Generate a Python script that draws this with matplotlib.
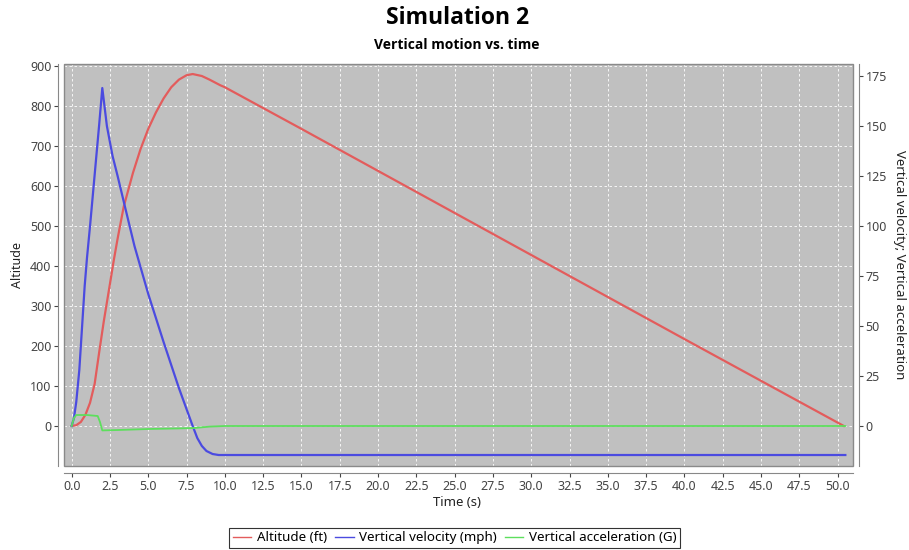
import matplotlib
matplotlib.use('Agg')
import matplotlib.pyplot as plt
from matplotlib.patches import Rectangle

plt.rcParams['font.family'] = ['Noto Sans', 'DejaVu Sans']

# 数据
alt_t = [0.0, 0.3, 0.6, 0.9, 1.2, 1.5, 1.8, 2.1, 2.5, 2.75, 3.0, 3.4, 4.0, 4.5,
         5.0, 5.5, 6.0, 6.5, 7.0, 7.5, 7.9, 8.5, 9.0, 9.7, 10.0, 15.0, 20.0,
         30.0, 40.0, 50.4]
altitude_ft = [0, 2, 10, 28, 58, 105, 185, 262, 355, 414, 468, 548, 632, 692,
               742, 783, 818, 846, 865, 876, 879, 874, 865, 851, 846, 742, 637,
               427, 217, 0]

vel_t = [0.0, 0.15, 0.3, 0.5, 0.7, 0.85, 1.0, 1.2, 1.4, 1.6, 1.8, 2.0, 2.3,
         2.67, 3.0, 3.5, 4.1, 5.0, 6.0, 7.0, 7.9, 8.2, 8.5, 8.8, 9.2, 9.6, 50.5]
velocity_mph = [0, 4, 12, 28, 52, 70, 84, 100, 117, 134, 151, 169, 150,
                135, 125, 109, 90, 66, 42, 19, 0, -6, -10, -12.5, -14, -14.5, -14.5]

acc_t = [0.0, 0.15, 0.3, 1.0, 1.7, 1.85, 2.0, 3.0, 5.0, 7.0, 8.0, 9.0, 10.0, 50.5]
accel_g = [0, 4, 5.5, 5.5, 5.0, 2.0, -2.2, -2.0, -1.5, -1.2, -1.0, -0.3, 0, 0]

x_ticks = [i * 2.5 for i in range(21)]
left_ticks = list(range(0, 901, 100))
right_ticks = list(range(0, 176, 25))

red = '#e35c5c'
blue = '#4b4be0'
green = '#5ddf5d'
tick_col = '#444444'

fig = plt.figure(figsize=(9.09, 5.5), dpi=100)
ax = fig.add_axes([0.0704, 0.1527, 0.868, 0.7309])
ax2 = ax.twinx()

ax.set_facecolor('#c0c0c0')
ax.set_xlim(-0.5, 51.0)
ax.set_ylim(-100, 904)
ax2.set_ylim(-20, 181)

l1, = ax.plot(alt_t, altitude_ft, color=red, lw=1.6, label='Altitude (ft)', zorder=3)
l2, = ax2.plot(vel_t, velocity_mph, color=blue, lw=1.6, label='Vertical velocity (mph)')
l3, = ax2.plot(acc_t, accel_g, color=green, lw=1.3, label='Vertical acceleration (G)')

ax.set_xticks(x_ticks)
ax.set_xticklabels([f'{v:.1f}' for v in x_ticks])
ax.set_yticks(left_ticks)
ax2.set_yticks(right_ticks)

ax.grid(True, color='white', linestyle=(0, (3, 3)), linewidth=0.6)
ax.set_axisbelow(True)

for a in (ax, ax2):
    for s in a.spines.values():
        s.set_visible(False)
    a.tick_params(colors=tick_col, labelsize=9, length=3, width=0.8, pad=2)

ax.spines['left'].set_visible(True)
ax.spines['left'].set_position(('outward', 4))
ax.spines['left'].set_color('#888888')
ax.spines['bottom'].set_visible(True)
ax.spines['bottom'].set_position(('outward', 5))
ax.spines['bottom'].set_color('#888888')
ax2.spines['right'].set_visible(True)
ax2.spines['right'].set_position(('outward', 4))
ax2.spines['right'].set_color('#888888')

# 绘图区边框
ax.add_patch(Rectangle((0, 0), 1, 1, transform=ax.transAxes, fill=False,
                       edgecolor='#8a8a8a', linewidth=1.0, zorder=5, clip_on=False))

fig.text(0.503, 0.967, 'Simulation 2', ha='center', va='center',
         fontsize=16.5, fontweight='bold', family=['Open Sans', 'DejaVu Sans'])
fig.text(0.503, 0.918, 'Vertical motion vs. time', ha='center', va='center',
         fontsize=10, fontweight='bold', family=['Open Sans', 'DejaVu Sans'])
fig.text(0.503, 0.087, 'Time (s)', ha='center', va='center', fontsize=9.5, color='#222222')
fig.text(0.019, 0.518, 'Altitude', ha='center', va='center', rotation=90,
         fontsize=9, color='#222222')
fig.text(0.99, 0.518, 'Vertical velocity; Vertical acceleration', ha='center',
         va='center', rotation=-90, fontsize=9.5, color='#222222')

leg = fig.legend(handles=[l1, l2, l3], loc='center', bbox_to_anchor=(0.5, 0.022),
                 ncol=3, fontsize=9.6, frameon=True, fancybox=False,
                 handlelength=1.4, handletextpad=0.4, columnspacing=0.6,
                 borderpad=0.25, borderaxespad=0)
leg.get_frame().set_edgecolor('black')
leg.get_frame().set_linewidth(0.8)
for line in leg.get_lines():
    line.set_linewidth(1.0)

fig.savefig('out.png', dpi=100)
